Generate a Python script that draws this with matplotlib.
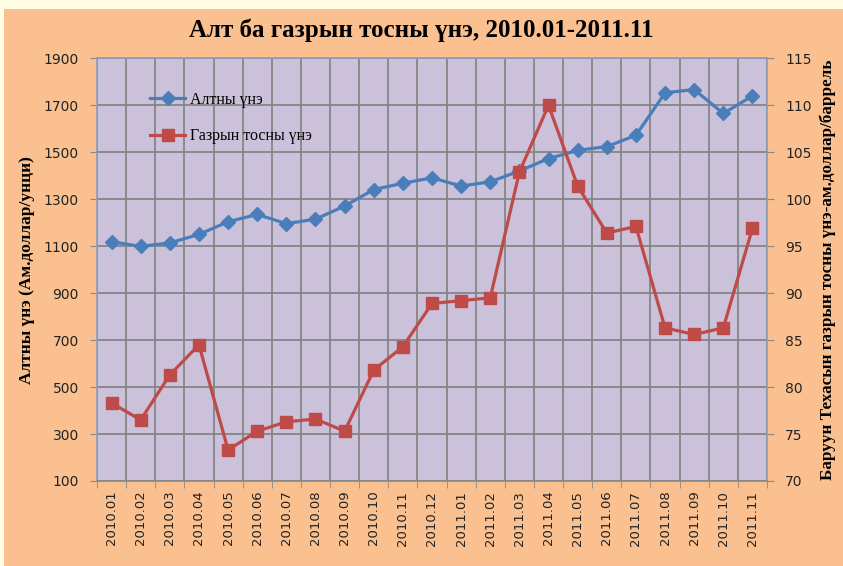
import matplotlib
matplotlib.use("Agg")
import matplotlib.pyplot as plt
from matplotlib.patches import Rectangle

months = ["2010.01", "2010.02", "2010.03", "2010.04", "2010.05", "2010.06",
          "2010.07", "2010.08", "2010.09", "2010.10", "2010.11", "2010.12",
          "2011.01", "2011.02", "2011.03", "2011.04", "2011.05", "2011.06",
          "2011.07", "2011.08", "2011.09", "2011.10", "2011.11"]
gold = [1119, 1099, 1114, 1150, 1204, 1235, 1196, 1215, 1271, 1341, 1368, 1391,
        1356, 1374, 1420, 1473, 1508, 1524, 1572, 1753, 1767, 1665, 1740]
oil = [78.3, 76.5, 81.3, 84.5, 73.3, 75.3, 76.3, 76.6, 75.3, 81.8, 84.3, 88.9,
       89.2, 89.5, 102.9, 110.0, 101.4, 96.4, 97.1, 86.3, 85.6, 86.3, 96.9]

orange = "#FAC090"
lavender = "#CCC1DA"
blue = "#4A7EBB"
red = "#BE4B48"
serif = "Liberation Serif"

fig = plt.figure(figsize=(8.43, 5.66), dpi=100)
fig.patch.set_facecolor("#FFFCE1")
fig.patches.append(Rectangle((4 / 843, 0), 1, 1 - 9 / 566, transform=fig.transFigure,
                             facecolor=orange, edgecolor="none", zorder=-10))

ax = fig.add_axes([97 / 843, 1 - 481 / 566, 670 / 843, (481 - 58.3) / 566])
ax.set_facecolor(lavender)
x = list(range(len(months)))

ax.plot(x, gold, color=blue, lw=2.3, marker="D", ms=7, label="Алтны үнэ", zorder=3)
ax.set_ylim(100, 1900)
ax.set_yticks(range(100, 1901, 200))
ax.set_xlim(-0.5, len(months) - 0.5)
ax.set_xticks(x)
ax.set_xticklabels(months, rotation=90, fontsize=9.5, color="#222222")
ax.set_xticks([i - 0.5 for i in range(len(months) + 1)], minor=True)
ax.tick_params(axis="x", which="major", length=0, pad=7)
ax.tick_params(axis="x", which="minor", length=5, color="#888888")
ax.tick_params(axis="y", length=5, color="#888888", labelsize=10, labelcolor="#222222", pad=8)
ax.grid(True, axis="y", color="#858585", lw=1.3)
ax.grid(True, axis="x", which="minor", color="#858585", lw=1.3)
ax.set_axisbelow(True)
for s in ax.spines.values():
    s.set_color("#8B9BB8")
    s.set_linewidth(1.2)
ax.spines["bottom"].set_color("#888888")
ax.set_ylabel("Алтны үнэ (Ам.доллар/унци)", fontfamily=serif, fontweight="bold",
              fontsize=12.5, labelpad=6)

ax2 = ax.twinx()
ax2.plot(x, oil, color=red, lw=2.3, marker="s", ms=9, label="Газрын тосны үнэ", zorder=3)
ax2.set_ylim(70, 115)
ax2.set_yticks(range(70, 116, 5))
ax2.tick_params(axis="y", length=5, color="#888888", labelsize=10, labelcolor="#222222", pad=8)
ax2.set_ylabel("Баруун Техасын газрын тосны үнэ-ам.доллар/баррель", fontfamily=serif,
               fontweight="bold", fontsize=12.3, labelpad=6)
for s in ax2.spines.values():
    s.set_visible(False)

h1, l1 = ax.get_legend_handles_labels()
h2, l2 = ax2.get_legend_handles_labels()
ax2.legend(h1 + h2, l1 + l2, loc="upper left", bbox_to_anchor=(0.058, 0.955),
           frameon=False, prop={"family": serif, "size": 11.5},
           labelspacing=1.3, handlelength=2.2, handletextpad=0.3)

fig.text(0.5, 1 - 30 / 566, "Алт ба газрын тосны үнэ, 2010.01-2011.11", ha="center",
         va="center", fontfamily=serif, fontweight="bold", fontsize=18)

fig.savefig("out.png", dpi=100, facecolor=fig.get_facecolor())
